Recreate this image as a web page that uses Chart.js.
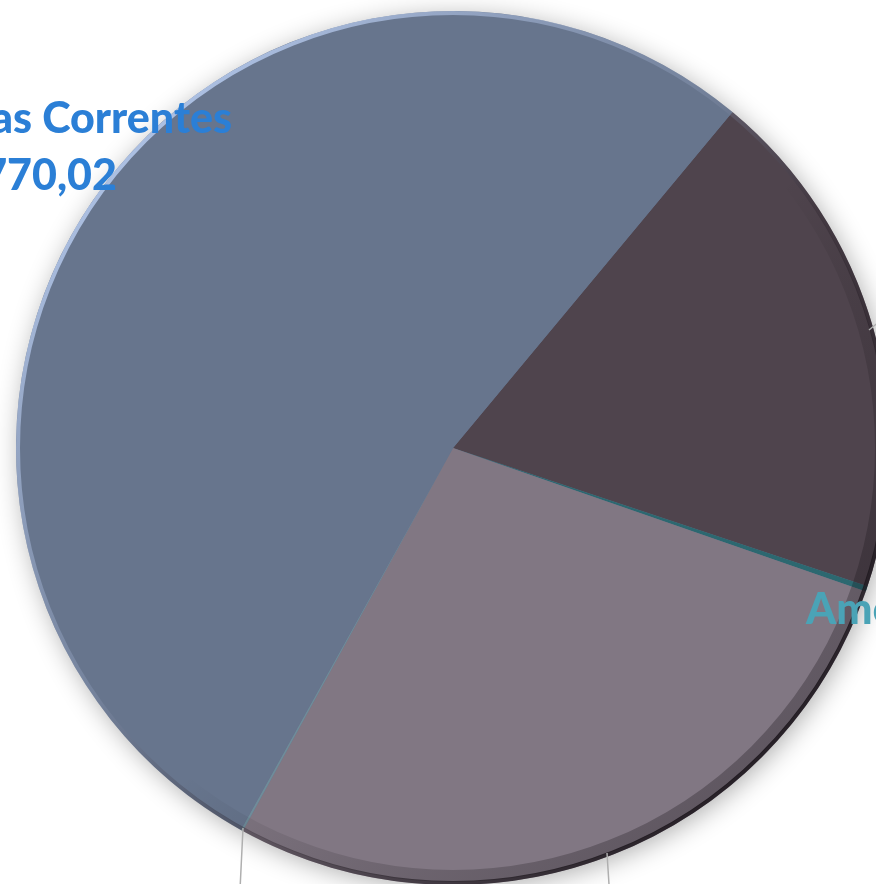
<!DOCTYPE html>
<html>
<head>
<meta charset="utf-8">
<script src="https://cdn.jsdelivr.net/npm/chart.js@4/dist/chart.umd.min.js"></script>
<style>
html,body{margin:0;padding:0;background:#fff;overflow:hidden;width:876px;height:884px;}
#wrap{position:absolute;left:0;top:0;width:910px;height:900px;}
</style>
</head>
<body>
<div id="wrap"><canvas id="c" width="910" height="900"></canvas></div>
<script>
// Data
const categories = ["Investimentos", "Amortização da Dívida", "Pessoal e Encargos Sociais", "Inversões Financeiras", "Despesas Correntes"];
const values = [954167.00, 9722.00, 1383333.00, 4167.00, 2648770.02];
const colors = ["#4F444D", "#2C6870", "#817783", "#6F8C9A", "#67758D"];
const labelTexts = {
  main: ["Despesas Correntes", "R$ 2.648.770,02"],
  amort: "Amortização da Dívida",
  bottom: "Inversões Financeiras"
};

const shadowPlugin = {
  id: 'pieShadow',
  beforeDatasetsDraw(chart) {
    const arc = chart.getDatasetMeta(0).data[0];
    const ctx = chart.ctx;
    ctx.save();
    ctx.shadowColor = 'rgba(0,0,0,0.32)';
    ctx.shadowBlur = 26;
    ctx.shadowOffsetX = 3;
    ctx.shadowOffsetY = 4;
    ctx.fillStyle = '#67758D';
    ctx.beginPath();
    ctx.arc(arc.x, arc.y, arc.outerRadius - 1, 0, Math.PI * 2);
    ctx.fill();
    ctx.restore();
  },
  afterDatasetsDraw(chart) {
    const arc = chart.getDatasetMeta(0).data[0];
    const ctx = chart.ctx;
    const r = arc.outerRadius;
    ctx.save();
    // bevel rim
    const g = ctx.createLinearGradient(arc.x - r * 0.7, arc.y - r * 0.7, arc.x + r * 0.7, arc.y + r * 0.7);
    g.addColorStop(0, 'rgba(175,195,230,0.95)');
    g.addColorStop(0.4, 'rgba(150,165,195,0.3)');
    g.addColorStop(0.6, 'rgba(40,32,40,0.3)');
    g.addColorStop(1, 'rgba(30,24,30,0.9)');
    ctx.strokeStyle = g;
    ctx.lineWidth = 4;
    ctx.beginPath();
    ctx.arc(arc.x, arc.y, r - 2, 0, Math.PI * 2);
    ctx.stroke();
    const g2 = ctx.createLinearGradient(arc.x - r * 0.7, arc.y - r * 0.7, arc.x + r * 0.7, arc.y + r * 0.7);
    g2.addColorStop(0, 'rgba(0,0,0,0)');
    g2.addColorStop(0.55, 'rgba(0,0,0,0)');
    g2.addColorStop(1, 'rgba(20,15,20,0.3)');
    ctx.strokeStyle = g2;
    ctx.lineWidth = 12;
    ctx.beginPath();
    ctx.arc(arc.x, arc.y, r - 9, 0, Math.PI * 2);
    ctx.stroke();

    // leader lines
    ctx.strokeStyle = '#AFAFAF';
    ctx.lineWidth = 1.5;
    ctx.beginPath();
    ctx.moveTo(243, 828); ctx.lineTo(239.5, 900);
    ctx.moveTo(607, 853); ctx.lineTo(610, 900);
    ctx.moveTo(869, 330); ctx.lineTo(880, 321);
    ctx.stroke();

    // labels
    ctx.font = '900 43px Lato, "Open Sans", sans-serif';
    ctx.textBaseline = 'alphabetic';
    ctx.fillStyle = '#2B7FD6';
    ctx.textAlign = 'right';
    ctx.fillText(labelTexts.main[0], 232, 133);
    ctx.fillText(labelTexts.main[1], 117, 190);
    ctx.textAlign = 'left';
    ctx.fillStyle = '#4AA3B6';
    ctx.fillText(labelTexts.amort, 806, 624);
    ctx.fillStyle = '#9DBAC4';
    ctx.textAlign = 'center';
    ctx.fillText(labelTexts.bottom, 130, 917);
    ctx.restore();
  }
};

new Chart(document.getElementById('c'), {
  type: 'pie',
  data: {
    labels: categories,
    datasets: [{
      data: values,
      backgroundColor: colors,
      borderWidth: 0,
      hoverOffset: 0,
      offset: 0
    }]
  },
  options: {
    responsive: false,
    animation: false,
    rotation: 39.76,
    layout: { padding: { left: 0, right: 4, top: 11, bottom: 15 } },
    plugins: { legend: { display: false }, tooltip: { enabled: false } },
    events: []
  },
  plugins: [shadowPlugin]
});
</script>
</body>
</html>
